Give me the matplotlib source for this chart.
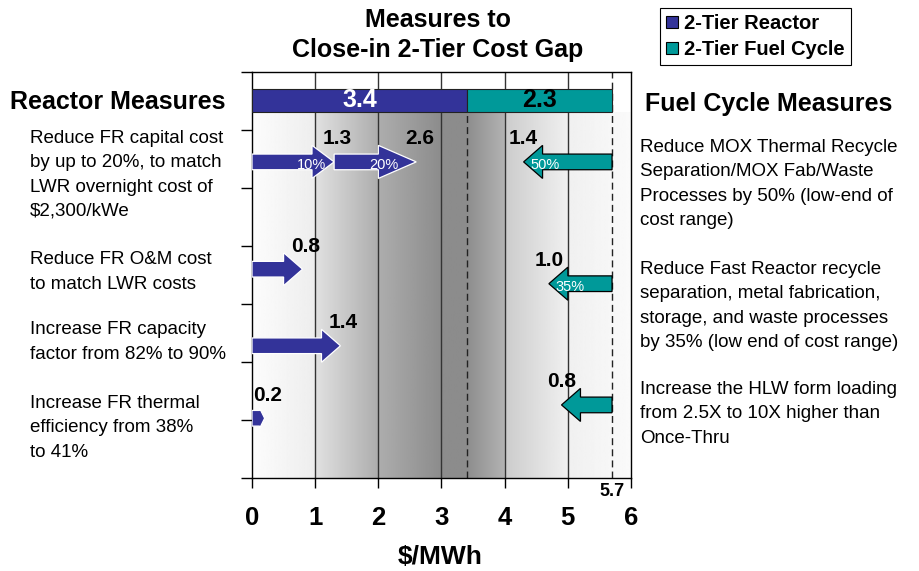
import numpy as np
import matplotlib
matplotlib.use("Agg")
import matplotlib.pyplot as plt
from matplotlib.patches import FancyArrow, Patch

plt.rcParams["font.family"] = ["Liberation Sans", "DejaVu Sans"]

# ----------------------------------------------------------------------------
# data
# ----------------------------------------------------------------------------
gap_names = ["2-Tier Reactor", "2-Tier Fuel Cycle"]
gap_values = [3.4, 2.3]
gap_total = 5.7

# reactor measures: cumulative arrow ends (from 0), and % labels inside arrows
reactor_steps = [[1.3, 2.6], [0.8], [1.4], [0.2]]
reactor_pcts = [["10%", "20%"], [], [], []]
reactor_text = [
    "Reduce FR capital cost\nby up to 20%, to match\nLWR overnight cost of\n$2,300/kWe",
    "Reduce FR O&M cost\nto match LWR costs",
    "Increase FR capacity\nfactor from 82% to 90%",
    "Increase FR thermal\nefficiency from 38%\nto 41%",
]

# fuel cycle measures: arrow length leftwards from 5.7
fuel_steps = [1.4, 1.0, 0.8]
fuel_pcts = ["50%", "35%", ""]
fuel_text = [
    "Reduce MOX Thermal Recycle\nSeparation/MOX Fab/Waste\nProcesses by 50% (low-end of\ncost range)",
    "Reduce Fast Reactor recycle\nseparation, metal fabrication,\nstorage, and waste processes\nby 35% (low end of cost range)",
    "Increase the HLW form loading\nfrom 2.5X to 10X higher than\nOnce-Thru",
]

x_ticks = [0, 1, 2, 3, 4, 5, 6]

# ----------------------------------------------------------------------------
# layout / style
# ----------------------------------------------------------------------------
navy = "#333399"
teal = "#009999"
reactor_rows = [5.45, 3.60, 2.28, 1.03]
fuel_rows = [5.45, 3.35, 1.26]
bar_y, bar_h = 6.51, 0.40

W, H = 920, 571
fig = plt.figure(figsize=(W / 100, H / 100), dpi=100)


def fx(px):
    return px / W


def fy(py):
    return 1 - py / H


ax = fig.add_axes([fx(252), fy(478), fx(631) - fx(252), (478 - 72) / H])
ax.set_xlim(0, 6)
ax.set_ylim(0, 7)

# grey background gradient below the bar
xs = np.linspace(0, 6, 600)
grey = np.interp(xs, [0, 1, 1.01, 2, 3, 3.4, 4, 4.01, 5, 6],
                 [0.99, 0.93, 0.88, 0.68, 0.55, 0.55, 0.70, 0.80, 0.94, 0.98])
ax.imshow(grey[None, :], extent=[0, 6, 0, bar_y - bar_h / 2], aspect="auto",
          cmap="gray", vmin=0, vmax=1, zorder=0, interpolation="bilinear")

for v in range(1, 6):
    ax.axvline(v, color="#333333", lw=1.0, zorder=1)
ax.plot([gap_values[0]] * 2, [0, bar_y - bar_h / 2], color="#222222", lw=1.0,
        ls=(0, (5, 3)), zorder=1)
ax.axvline(gap_total, color="#222222", lw=1.0, ls=(0, (5, 3)), zorder=1)

# stacked gap bar
ax.barh(bar_y, gap_values[0], height=bar_h, left=0, color=navy,
        edgecolor="#222222", lw=0.8, zorder=3)
ax.barh(bar_y, gap_values[1], height=bar_h, left=gap_values[0], color=teal,
        edgecolor="#222222", lw=0.8, zorder=3)
ax.text(gap_values[0] / 2, bar_y, f"{gap_values[0]:.1f}", color="white",
        fontsize=18, fontweight="bold", ha="center", va="center", zorder=4)
ax.text(gap_values[0] + gap_values[1] / 2, bar_y, f"{gap_values[1]:.1f}",
        color="black", fontsize=18, fontweight="bold", ha="center", va="center",
        zorder=4)

body_w = 0.27
head_w = 0.57


def arrow(x0, x1, y, color, edge, head_len, hw=head_w):
    a = FancyArrow(x0, y, x1 - x0, 0, width=body_w, head_width=hw,
                   head_length=head_len, length_includes_head=True,
                   facecolor=color, edgecolor=edge, lw=0.9, zorder=5)
    ax.add_patch(a)


# reactor arrows (rightwards from 0)
for steps, pcts, y in zip(reactor_steps, reactor_pcts, reactor_rows):
    start = 0
    for i, end in enumerate(steps):
        if len(steps) > 1:
            hl, hw = 0.35 + 0.25 * i, head_w
        elif end < 0.5:
            hl, hw = 0.08, body_w + 0.08
        else:
            hl, hw = 0.3, head_w
        arrow(start, end, y, navy, "white", hl, hw)
        ax.text(end + 0.05, y + 0.4, f"{end:.1f}",
                fontsize=15, fontweight="bold", ha="center", va="center", zorder=6)
        if i < len(pcts):
            frac = 0.72 if i == 0 else 0.6
            ax.text(start + (end - start) * frac, y - 0.05, pcts[i],
                    color="white", fontsize=10.5, ha="center", va="center",
                    zorder=6)
        start = end

# fuel cycle arrows (leftwards from 5.7)
for val, pct, y in zip(fuel_steps, fuel_pcts, fuel_rows):
    end = gap_total - val
    arrow(gap_total, end, y, teal, "black", 0.3)
    ax.text(end, y + 0.4, f"{val:.1f}", fontsize=15, fontweight="bold",
            ha="center", va="center", zorder=6)
    if pct:
        ax.text(end + 0.34, y - 0.05, pct, color="white", fontsize=10.5,
                ha="center", va="center", zorder=6)

# axes styling
ax.set_xticks(x_ticks)
ax.set_xticklabels([str(t) for t in x_ticks], fontsize=18.5, fontweight="bold")
ax.set_yticks(range(0, 8))
ax.set_yticklabels([])
ax.tick_params(axis="x", direction="out", length=7, pad=13, width=1)
ax.tick_params(axis="y", direction="out", length=8, width=1)
for s in ax.spines.values():
    s.set_linewidth(1.0)
    s.set_color("black")
ax.text(gap_total, -0.08, f"{gap_total}", fontsize=13, fontweight="bold",
        ha="center", va="top")

# titles and side texts
fig.text(fx(438), fy(35), "Measures to\nClose-in 2-Tier Cost Gap", fontsize=18,
         fontweight="bold", ha="center", va="center", linespacing=1.35)
fig.text(fx(440), fy(557), "$/MWh", fontsize=19, fontweight="bold",
         ha="center", va="center")
fig.text(fx(10), fy(102), "Reactor Measures", fontsize=18, fontweight="bold",
         ha="left", va="center")
fig.text(fx(645), fy(104), "Fuel Cycle Measures", fontsize=18,
         fontweight="bold", ha="left", va="center")

reactor_mid = [175, 272, 342, 428]
for txt, mid in zip(reactor_text, reactor_mid):
    fig.text(fx(30), fy(mid), txt, fontsize=13.5, ha="left", va="center",
             linespacing=1.55)
fuel_mid = [184, 306, 414]
for txt, mid in zip(fuel_text, fuel_mid):
    fig.text(fx(640), fy(mid), txt, fontsize=13.5, ha="left", va="center",
             linespacing=1.55)

handles = [Patch(facecolor=navy, edgecolor="black", lw=0.8),
           Patch(facecolor=teal, edgecolor="black", lw=0.8)]
leg = fig.legend(handles, gap_names, loc="upper left",
                 bbox_to_anchor=(fx(660), fy(8)), prop={"weight": "bold", "size": 14.5},
                 handlelength=0.6, handleheight=0.6, handletextpad=0.3,
                 borderpad=0.3, labelspacing=0.35, fancybox=False,
                 edgecolor="black", framealpha=1, borderaxespad=0)
leg.get_frame().set_linewidth(0.8)

fig.savefig("out.png", dpi=100)
